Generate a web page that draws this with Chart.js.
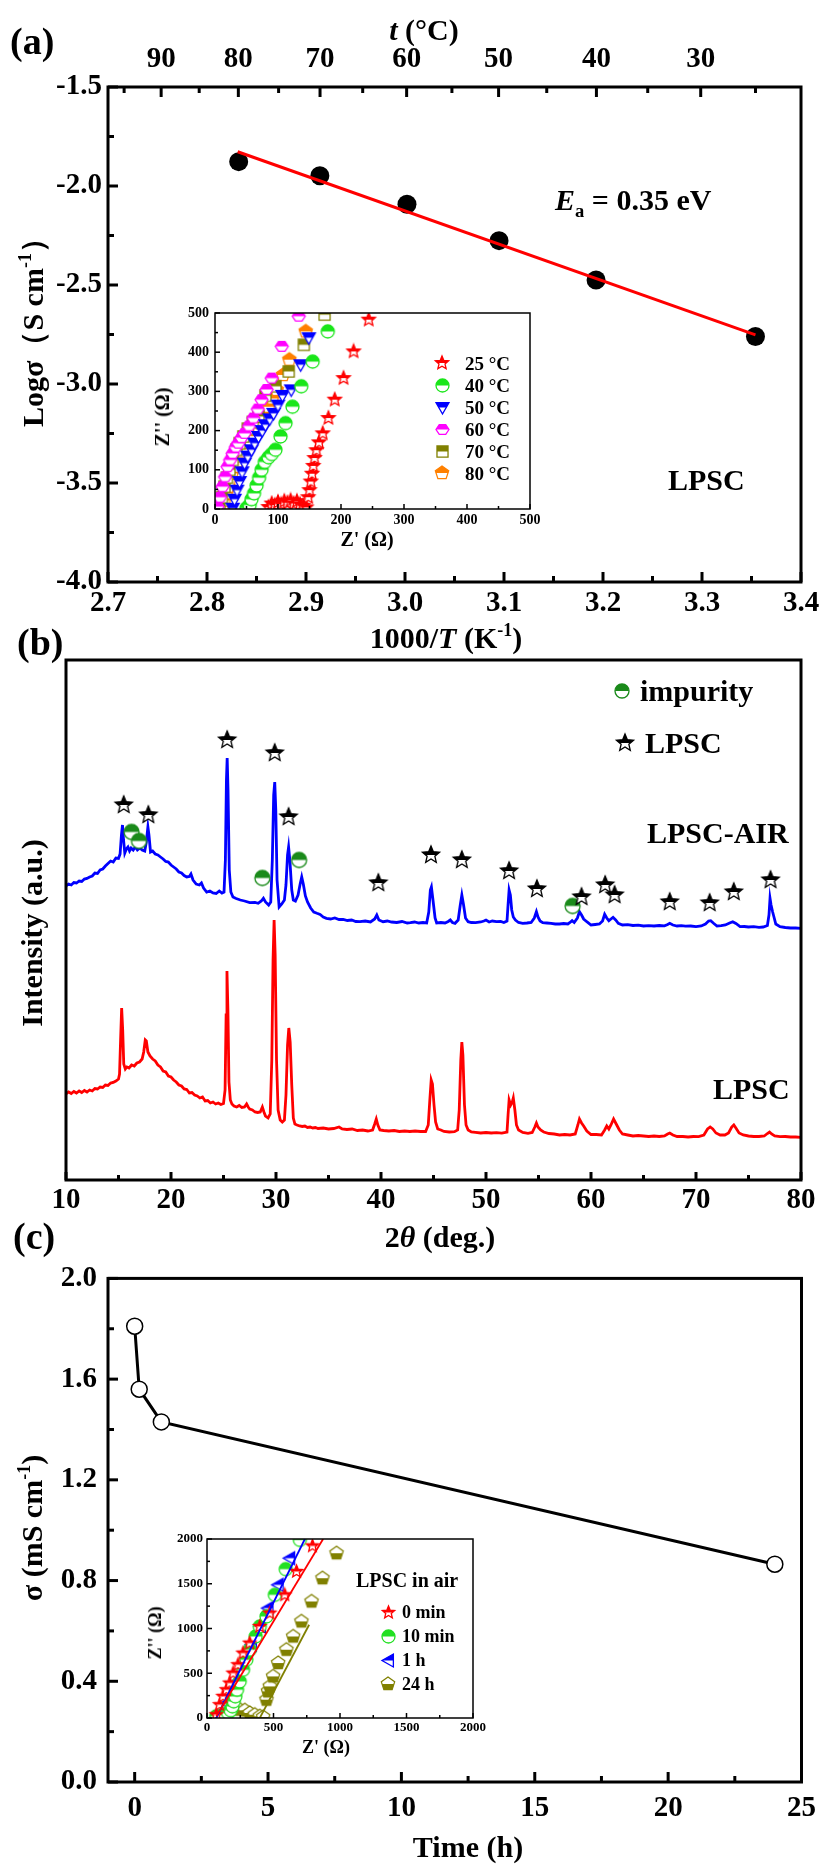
<!DOCTYPE html>
<html>
<head>
<meta charset="utf-8">
<script src="https://cdn.jsdelivr.net/npm/chart.js@4.4.0/dist/chart.umd.min.js"></script>
<style>
  body { margin: 0; background: #fff; }
  #fig { position: relative; width: 825px; height: 1865px; overflow: hidden; background: #fff;
         font-family: 'Liberation Serif', 'Times New Roman', serif; font-weight: bold; color: #000; }
  #fig canvas { position: absolute; }
  .t { position: absolute; white-space: nowrap; line-height: 1; z-index: 5; }
  .ctr { transform: translate(-50%, -50%); }
  .lm { transform: translate(0, -50%); }
  .rot { transform: translate(-50%, -50%) rotate(-90deg); }
  sup { font-size: 60%; vertical-align: 0.65em; line-height: 0; }
  sub { font-size: 62%; vertical-align: -0.4em; line-height: 0; }
  .leg { position: absolute; z-index: 5; }
</style>
</head>
<body>
<div id="fig">
  <canvas id="chartA" width="825" height="650" style="left:0;top:0"></canvas>
  <canvas id="chartB" width="825" height="660" style="left:0;top:600px"></canvas>
  <canvas id="chartC" width="825" height="615" style="left:0;top:1250px"></canvas>
  <canvas id="insetA" width="400" height="260" style="left:150px;top:295px"></canvas>
  <canvas id="insetC" width="340" height="235" style="left:150px;top:1525px"></canvas>

  <div class="t lm" style="left:10px;top:41px;font-size:38px">(a)</div>
  <div class="t ctr" style="left:424px;top:30px;font-size:30px"><i>t</i> (°C)</div>
  <div class="t ctr" style="left:446px;top:638px;font-size:30px">1000/<i>T</i> (K<sup>-1</sup>)</div>
  <div class="t rot" style="left:33px;top:325px;font-size:30px">Logσ（S cm<sup>-1</sup>）</div>
  <div class="t lm" style="left:555px;top:200px;font-size:30px"><i>E</i><sub>a</sub> = 0.35 eV</div>
  <div class="t lm" style="left:668px;top:480px;font-size:30px">LPSC</div>
  <div class="t rot" style="left:162px;top:417px;font-size:20px">Z'' (Ω)</div>
  <div class="t ctr" style="left:367px;top:539px;font-size:20px">Z' (Ω)</div>

  <div class="t lm" style="left:17px;top:642px;font-size:38px">(b)</div>
  <div class="t rot" style="left:32px;top:933px;font-size:30px">Intensity (a.u.)</div>
  <div class="t lm" style="left:640px;top:691px;font-size:30px">impurity</div>
  <div class="t lm" style="left:645px;top:743px;font-size:30px">LPSC</div>
  <div class="t lm" style="left:647px;top:833px;font-size:30px">LPSC-AIR</div>
  <div class="t lm" style="left:713px;top:1089px;font-size:30px">LPSC</div>
  <div class="t ctr" style="left:440px;top:1237px;font-size:30px">2<i>θ</i> (deg.)</div>

  <div class="t lm" style="left:13px;top:1236px;font-size:38px">(c)</div>
  <div class="t rot" style="left:32px;top:1528px;font-size:30px">σ (mS cm<sup>-1</sup>)</div>
  <div class="t ctr" style="left:468px;top:1847px;font-size:30px">Time (h)</div>
  <div class="t rot" style="left:155px;top:1633px;font-size:18px">Z'' (Ω)</div>
  <div class="t ctr" style="left:326px;top:1747px;font-size:18px">Z' (Ω)</div>
  <div class="t lm" style="left:356px;top:1580px;font-size:20px">LPSC in air</div>
</div>

<script>
// ---- (a) Arrhenius plot ----
const tempC = [80, 70, 60, 50, 40, 25];
const invT = [2.832, 2.914, 3.002, 3.095, 3.193, 3.354];
const logSigma = [-1.877, -1.948, -2.092, -2.276, -2.475, -2.76];
const fitInvT = [2.831, 3.354];
const fitLogSigma = [-1.827, -2.752];
const invTTicks = [2.7, 2.8, 2.9, 3.0, 3.1, 3.2, 3.3, 3.4];
const invTMinor = [2.75, 2.85, 2.95, 3.05, 3.15, 3.25, 3.35];
const logTicks = [-4.0, -3.5, -3.0, -2.5, -2.0, -1.5];
const logMinor = [-3.75, -3.25, -2.75, -2.25, -1.75];
const topTempTicks = [90, 80, 70, 60, 50, 40, 30];
const topTempMinor = [95, 85, 75, 65, 55, 45, 35, 25];

// inset (a): Nyquist plots, [Z', Z'']
const z25 = [[85,5],[90,14],[95,10],[100,18],[105,12],[110,20],[115,16],[120,22],[125,14],[130,20],[135,12],[140,8],[145,4],[148,30],[150,48],[152,70],[154,90],[156,110],[158,130],[161,150],[165,170],[171,193],[180,232],[190,279],[204,334],[220,402],[244,483]];
const z40 = [[50,2],[55,10],[58,25],[62,40],[66,60],[70,80],[74,100],[79,120],[85,132],[90,140],[96,151],[104,185],[112,219],[123,261],[137,313],[155,376],[179,453]];
const z50 = [[28,2],[31,25],[35,48],[39,70],[43,95],[47,117],[52,135],[58,151],[63,168],[69,185],[75,200],[80,215],[87,230],[93,244],[100,265],[107,290],[121,304],[136,368],[149,437]];
const z60 = [[4,6],[8,30],[12,57],[16,82],[20,108],[24,125],[28,142],[33,158],[37,168],[42,182],[47,193],[54,212],[61,232],[68,255],[74,279],[82,305],[90,334],[106,415],[133,492]];
const z70 = [[7,6],[11,30],[15,57],[19,80],[23,100],[28,125],[34,151],[39,168],[45,185],[52,205],[60,222],[69,236],[80,289],[96,313],[117,351],[141,419],[174,496]];
const z80 = [[12,6],[15,22],[18,40],[21,57],[23,74],[27,91],[31,108],[35,121],[39,134],[43,147],[47,159],[51,168],[55,176],[59,189],[63,202],[68,211],[72,219],[78,240],[85,261],[91,282],[98,304],[108,342],[118,381],[144,453]];
const insetATicks = [0, 100, 200, 300, 400, 500];
const insetAMinor = [50, 150, 250, 350, 450];

// ---- (b) XRD patterns, [2θ, intensity (a.u.)] ----
const xrdAir = [[10.0,294],[10.25,296],[10.5,295],[10.75,297.5],[11.0,297],[11.25,299],[11.5,298.5],[11.75,301],[12.0,301.5],[12.25,303],[12.5,304],[12.75,307],[13.0,306.5],[13.25,310],[13.5,311],[13.75,314],[14.0,316.5],[14.25,319],[14.5,318],[14.75,322],[15.0,321.5],[15.15,326],[15.28,345],[15.38,355],[15.48,340],[15.6,327],[15.75,331],[15.9,333],[16.05,329],[16.2,332],[16.4,330],[16.6,333],[16.8,330],[17.05,332],[17.25,330],[17.5,329],[17.65,338],[17.8,353],[17.9,345],[18.05,328],[18.25,329],[18.5,326],[18.75,325],[19.0,323],[19.25,321],[19.5,318.5],[19.75,318],[20.0,315],[20.25,313],[20.5,311],[20.75,308],[21.0,307],[21.25,304.5],[21.5,303],[21.75,303.5],[21.9,306],[22.1,300],[22.4,296],[22.7,295],[22.9,297],[23.1,292],[23.4,288],[23.7,289],[24.0,287],[24.3,286.5],[24.6,289],[24.85,287],[25.05,288],[25.18,320],[25.28,400],[25.35,422],[25.43,390],[25.55,310],[25.7,288],[25.9,283],[26.2,281.5],[26.6,280],[27.0,279],[27.5,277.3],[28.0,277.5],[28.3,276.7],[28.6,279],[28.8,281.7],[29.0,278],[29.3,275],[29.5,278],[29.65,320],[29.78,385],[29.88,398],[29.98,370],[30.1,300],[30.3,273],[30.55,276],[30.8,280],[30.95,295],[31.1,325],[31.2,333],[31.32,320],[31.5,290],[31.65,280],[31.85,279],[32.1,285],[32.3,296],[32.45,303],[32.6,296],[32.8,284],[33.0,278],[33.3,272],[33.6,268],[33.9,266.7],[34.2,265.5],[34.5,263],[34.8,261.7],[35.2,261],[35.6,262],[36.0,260.5],[36.4,260.7],[36.8,259.5],[37.2,260],[37.6,258.5],[38.0,258.3],[38.5,259],[39.0,258],[39.4,261],[39.6,265],[39.8,260],[40.2,258.3],[40.6,259],[41.0,258],[41.5,257.5],[42.0,258.5],[42.5,257],[42.8,257.3],[43.2,258],[43.6,257],[44.0,257.5],[44.35,257],[44.55,268],[44.7,290],[44.8,293],[44.95,280],[45.15,262],[45.3,257],[45.7,257.5],[46.1,257],[46.4,258.5],[46.6,260],[46.8,257.5],[47.05,256.7],[47.35,260],[47.55,275],[47.7,285],[47.85,276],[48.05,262],[48.3,258.3],[48.6,257.5],[49.0,257.3],[49.5,258],[49.8,259],[50.0,260],[50.3,258],[50.6,259],[51.0,258.3],[51.4,258.5],[51.7,257.5],[52.0,259],[52.1,275],[52.2,290],[52.32,285],[52.45,270],[52.6,263],[52.8,260],[53.1,257.5],[53.5,256.7],[53.9,257],[54.3,257.5],[54.6,262],[54.8,268.3],[54.95,263],[55.15,259],[55.4,257.3],[55.8,257],[56.2,256.7],[56.6,256],[57.0,256],[57.4,256.5],[57.8,256],[58.0,257.5],[58.2,259.3],[58.4,257.5],[58.7,262],[58.9,268.3],[59.1,265],[59.3,261],[59.6,258.3],[60.0,255],[60.4,255.5],[60.8,256],[61.1,259],[61.3,265.7],[61.5,262],[61.7,259.3],[61.9,261],[62.1,262.7],[62.35,260],[62.6,256.7],[63.0,255],[63.5,255.3],[64.0,254.5],[64.5,254.8],[65.0,254],[65.5,254.3],[66.0,254],[66.5,254.5],[67.0,254.2],[67.3,255.5],[67.5,256.7],[67.8,255],[68.2,254],[68.6,254.3],[69.0,253.8],[69.5,254],[70.0,253.3],[70.5,254],[70.9,256],[71.2,259],[71.4,259.3],[71.7,256.5],[72.0,254],[72.4,254.3],[72.8,255],[73.2,257],[73.5,258.3],[73.8,256.5],[74.2,253.3],[74.6,253.5],[75.0,253],[75.5,253.3],[76.0,252.7],[76.4,253],[76.8,254.5],[76.95,265],[77.05,281.7],[77.15,275],[77.3,268],[77.45,262],[77.6,256],[78.0,253.3],[78.5,252.5],[79.0,252],[79.5,252],[80.0,251.7]];
const xrdLpsc = [[10.0,86],[10.25,88],[10.5,86.5],[10.75,88.5],[11.0,87],[11.25,89],[11.5,87.5],[11.75,89.5],[12.0,88],[12.25,90],[12.5,89],[12.75,91.5],[13.0,91],[13.25,93],[13.5,92.5],[13.75,95],[14.0,94.5],[14.25,97],[14.5,97.5],[14.75,99],[15.0,101],[15.1,106],[15.2,140],[15.3,172],[15.4,150],[15.5,116],[15.65,111],[15.8,113],[16.0,112],[16.25,115],[16.5,114],[16.75,117],[17.0,118],[17.25,121],[17.4,128],[17.55,140],[17.65,139],[17.8,128],[18.0,124],[18.25,121],[18.5,119],[18.75,115],[19.0,113],[19.25,109],[19.5,108],[19.75,104],[20.0,103],[20.25,100],[20.5,98],[20.75,95],[21.0,94],[21.25,91],[21.5,90.5],[21.75,87],[22.0,87.5],[22.25,85],[22.5,84],[22.75,82],[23.0,83],[23.25,79],[23.5,79.5],[23.75,77],[24.0,78],[24.25,76],[24.5,77],[24.75,75.5],[25.0,76.5],[25.15,90],[25.25,165],[25.33,209],[25.42,170],[25.52,98],[25.65,80],[25.8,76],[26.0,74],[26.25,73],[26.5,74.5],[26.75,72.5],[27.0,73],[27.2,76],[27.35,73],[27.5,71],[27.75,70],[28.0,68],[28.25,67.5],[28.5,68],[28.7,73],[28.85,68],[29.0,64],[29.25,62],[29.45,66],[29.6,120],[29.72,220],[29.82,260],[29.92,225],[30.05,120],[30.2,70],[30.4,60],[30.6,58],[30.8,60],[30.95,85],[31.1,135],[31.22,152],[31.35,138],[31.5,95],[31.65,62],[31.8,56],[32.0,55],[32.25,54],[32.5,53.5],[32.75,54],[33.0,52.5],[33.25,53],[33.5,52],[33.75,52.5],[34.0,51.5],[34.5,52],[35.0,51],[35.5,51.5],[36.0,53],[36.3,51],[36.75,50.5],[37.25,51],[37.75,49.5],[38.25,50],[38.75,49],[39.2,50],[39.4,56],[39.55,61],[39.7,55],[39.9,50],[40.25,49.5],[40.75,49],[41.25,49.5],[41.75,48.5],[42.25,49],[42.75,48.5],[43.25,49],[43.75,48.5],[44.25,48.5],[44.5,55],[44.65,80],[44.78,100],[44.9,96],[45.05,75],[45.2,58],[45.4,51],[45.7,50],[46.0,48.5],[46.5,48],[47.0,48.3],[47.3,50],[47.45,70],[47.6,120],[47.7,138],[47.8,125],[47.95,75],[48.1,55],[48.3,50],[48.6,48],[49.0,47.7],[49.5,47],[50.0,47.5],[50.5,47],[51.0,47.3],[51.5,46.8],[52.0,48],[52.1,65],[52.2,80],[52.35,75],[52.5,78],[52.6,82],[52.75,70],[52.9,55],[53.1,50],[53.5,47.5],[54.0,46.7],[54.4,47.5],[54.65,53],[54.8,57],[54.95,53],[55.2,50],[55.5,48],[56.0,46.5],[56.5,46],[57.0,45],[57.5,45.5],[58.0,45],[58.5,46],[58.75,55],[58.9,61],[59.1,57],[59.3,54],[59.6,49],[60.0,45.5],[60.5,45.5],[61.0,45],[61.3,50],[61.5,54],[61.7,51],[61.9,55],[62.15,61],[62.4,56],[62.7,50],[63.0,46],[63.5,45],[64.0,44],[64.5,44.5],[65.0,44],[65.5,43.5],[66.0,44],[66.5,43.5],[67.0,44],[67.3,46],[67.5,47],[67.8,45],[68.2,43.5],[68.75,43.5],[69.25,43],[69.75,43.5],[70.25,43.3],[70.75,45],[71.1,51],[71.35,53],[71.6,51],[71.9,47],[72.3,45],[72.75,45],[73.1,47],[73.4,53],[73.6,55],[73.8,52],[74.1,47],[74.5,45],[75.0,44],[75.5,43.5],[76.0,43.5],[76.5,44],[76.8,46.5],[77.0,48],[77.2,46],[77.5,44],[78.0,43.3],[78.5,43.5],[79.0,43],[79.5,43],[80.0,42.7]];
const lpscPeakMarks = [[15.5,375],[17.84,365],[25.35,440],[29.88,427],[31.2,363],[39.75,297],[44.76,325],[47.7,320],[52.2,309],[54.85,291],[59.1,283],[61.35,295],[62.25,285],[67.5,278],[71.3,277],[73.6,288],[77.1,300]];
const impurityMarks = [[16.25,348],[16.95,339],[28.7,302],[32.2,320],[58.25,274]];
const twoThetaTicks = [10, 20, 30, 40, 50, 60, 70, 80];
const twoThetaMinor = [15, 25, 35, 45, 55, 65, 75];

// ---- (c) conductivity vs exposure time ----
const timeH = [0, 0.17, 1, 24];
const sigmaMS = [1.81, 1.56, 1.43, 0.865];
const timeTicks = [0, 5, 10, 15, 20, 25];
const timeMinor = [2.5, 7.5, 12.5, 17.5, 22.5];
const sigmaTicks = [0.0, 0.4, 0.8, 1.2, 1.6, 2.0];
const sigmaMinor = [0.2, 0.6, 1.0, 1.4, 1.8];

// inset (c): Nyquist plots in air, [Z', Z'']
const air0min = [[70,37],[95,149],[120,242],[146,316],[171,391],[196,502],[233,595],[271,725],[321,837],[397,1023],[472,1172],[585,1376],[673,1637],[793,1923]];
const air10min = [[70,19],[108,26],[133,37],[158,56],[178,86],[191,130],[201,186],[213,242],[226,316],[246,409],[271,539],[296,651],[321,763],[366,911],[397,1023],[447,1135],[510,1376],[592,1663],[698,1990]];
const air1h = [[83,11],[146,167],[208,391],[271,595],[334,818],[402,1023],[459,1228],[535,1488],[622,1786]];
const air24h = [[246,93],[284,86],[321,56],[359,37],[397,19],[422,11],[447,205],[459,298],[472,353],[497,465],[535,614],[597,763],[648,911],[710,1079],[786,1302],[868,1562],[974,1841]];
const fit0min = [[70,19],[873,2000]];
const fit1h = [[70,0],[736,2000]];
const fit24h = [[397,0],[768,1042]];
const insetCTicks = [0, 500, 1000, 1500, 2000];
const insetCMinor = [250, 750, 1250, 1750];

const SERIF = "'Liberation Serif', 'Times New Roman', serif";
const pts = arr => arr.map(p => ({ x: p[0], y: p[1] }));
const zip = (xs, ys) => xs.map((x, i) => ({ x: x, y: ys[i] }));

// marker glyphs: outline in colour, one half filled
function shapePath(ctx, shape, cx, cy, r) {
  ctx.beginPath();
  if (shape === 'circle') { ctx.arc(cx, cy, r, 0, Math.PI * 2); return; }
  let p = [];
  if (shape === 'star') {
    for (let i = 0; i < 10; i++) {
      const a = -Math.PI / 2 + i * Math.PI / 5, rr = i % 2 ? r * 0.45 : r;
      p.push([cx + rr * Math.cos(a), cy + rr * Math.sin(a)]);
    }
  } else if (shape === 'pentagon') {
    for (let i = 0; i < 5; i++) {
      const a = -Math.PI / 2 + i * 2 * Math.PI / 5;
      p.push([cx + r * Math.cos(a), cy + r * Math.sin(a)]);
    }
  } else if (shape === 'hexagon') {
    for (let i = 0; i < 6; i++) {
      const a = i * Math.PI / 3;
      p.push([cx + r * Math.cos(a), cy + r * 0.88 * Math.sin(a)]);
    }
  } else if (shape === 'square') {
    const h = r * 0.85;
    p = [[cx - h, cy - h], [cx + h, cy - h], [cx + h, cy + h], [cx - h, cy + h]];
  } else if (shape === 'triDown') {
    p = [[cx - r, cy - r * 0.75], [cx + r, cy - r * 0.75], [cx, cy + r]];
  } else if (shape === 'triLeft') {
    p = [[cx + r * 0.75, cy - r], [cx + r * 0.75, cy + r], [cx - r, cy]];
  }
  p.forEach((q, i) => i ? ctx.lineTo(q[0], q[1]) : ctx.moveTo(q[0], q[1]));
  ctx.closePath();
}

function makeMarker(shape, color, size, half) {
  const c = document.createElement('canvas');
  c.width = size + 4; c.height = size + 4;
  const ctx = c.getContext('2d');
  const cx = c.width / 2, cy = c.height / 2, r = size / 2;
  shapePath(ctx, shape, cx, cy, r);
  ctx.fillStyle = '#fff'; ctx.fill();
  ctx.save();
  shapePath(ctx, shape, cx, cy, r); ctx.clip();
  ctx.fillStyle = color;
  if (half === 'bottom') ctx.fillRect(0, cy, c.width, c.height);
  else ctx.fillRect(0, 0, c.width, cy);
  ctx.restore();
  shapePath(ctx, shape, cx, cy, r);
  ctx.strokeStyle = color; ctx.lineWidth = 1.3; ctx.stroke();
  return c;
}

function putIcon(canvas, x, y) {
  canvas.className = 'leg';
  canvas.style.left = (x - canvas.width / 2) + 'px';
  canvas.style.top = (y - canvas.height / 2) + 'px';
  document.getElementById('fig').appendChild(canvas);
}

function putText(html, x, y, size) {
  const d = document.createElement('div');
  d.className = 't lm';
  d.style.left = x + 'px'; d.style.top = y + 'px'; d.style.fontSize = size + 'px';
  d.innerHTML = html;
  document.getElementById('fig').appendChild(d);
}

// frame box + inward tick marks
const frame = {
  id: 'frame',
  beforeDatasetsDraw(chart, args, o) {
    if (!o.fill) return;
    const a = chart.chartArea, ctx = chart.ctx;
    ctx.save(); ctx.fillStyle = o.fill;
    ctx.fillRect(a.left, a.top, a.right - a.left, a.bottom - a.top);
    ctx.restore();
  },
  afterDraw(chart, args, o) {
    const ctx = chart.ctx, a = chart.chartArea;
    ctx.save();
    ctx.strokeStyle = '#000';
    ctx.lineWidth = o.width;
    (o.marks || []).forEach(m => {
      const s = chart.scales[m.scale];
      m.values.forEach(v => {
        const p = s.getPixelForValue(v);
        ctx.beginPath();
        if (m.side === 'bottom') { ctx.moveTo(p, a.bottom); ctx.lineTo(p, a.bottom - m.len); }
        if (m.side === 'top') { ctx.moveTo(p, a.top); ctx.lineTo(p, a.top + m.len); }
        if (m.side === 'left') { ctx.moveTo(a.left, p); ctx.lineTo(a.left + m.len, p); }
        ctx.stroke();
      });
    });
    ctx.strokeRect(a.left, a.top, a.right - a.left, a.bottom - a.top);
    ctx.restore();
  }
};

function linAxis(o) {
  return {
    type: 'linear', position: o.position, min: o.min, max: o.max,
    grid: { display: false, drawTicks: false },
    border: { display: false },
    afterBuildTicks: s => { s.ticks = o.ticks.map(v => ({ value: v })); },
    afterFit: s => {
      if (o.position === 'left') s.width = o.fit; else s.height = o.fit;
    },
    ticks: {
      display: o.labels !== false,
      autoSkip: false, maxRotation: 0, minRotation: 0,
      padding: o.padding || 0, color: '#000',
      font: { family: SERIF, weight: 'bold', size: o.size || 12 },
      callback: o.fmt || (v => v)
    }
  };
}

function baseOptions(padding, frameOpts, scales) {
  return {
    responsive: false, animation: false, events: [],
    layout: { padding: padding },
    plugins: { legend: { display: false }, tooltip: { enabled: false }, frame: frameOpts },
    scales: scales
  };
}

// ---- chart (a) ----
new Chart(document.getElementById('chartA'), {
  type: 'scatter',
  data: {
    datasets: [
      { data: zip(fitInvT, fitLogSigma), showLine: true, borderColor: '#ff0000', borderWidth: 3, pointRadius: 0 },
      { data: zip(invT, logSigma), pointRadius: 9.5, pointBackgroundColor: '#000', pointBorderColor: '#000', pointBorderWidth: 0 }
    ]
  },
  options: baseOptions({ left: 0, right: 24, top: 0, bottom: 0 }, {
    width: 3,
    marks: [
      { scale: 'x', side: 'bottom', values: invTTicks, len: 10 },
      { scale: 'x', side: 'bottom', values: invTMinor, len: 6 },
      { scale: 'x2', side: 'top', values: topTempTicks.map(t => 1000 / (t + 273.15)), len: 10 },
      { scale: 'x2', side: 'top', values: topTempMinor.map(t => 1000 / (t + 273.15)), len: 6 },
      { scale: 'y', side: 'left', values: logTicks, len: 10 },
      { scale: 'y', side: 'left', values: logMinor, len: 6 }
    ]
  }, {
    x: linAxis({ position: 'bottom', min: 2.7, max: 3.4, ticks: invTTicks, fit: 68, size: 29, padding: 4, fmt: v => v.toFixed(1) }),
    x2: linAxis({ position: 'top', min: 2.7, max: 3.4, ticks: topTempTicks.map(t => 1000 / (t + 273.15)), fit: 87, size: 29, padding: 10, fmt: (v, i) => topTempTicks[i] }),
    y: linAxis({ position: 'left', min: -4, max: -1.5, ticks: logTicks, fit: 108, size: 29, padding: 6, fmt: v => v.toFixed(1) })
  }),
  plugins: [frame]
});

// ---- inset (a) ----
const insetASeries = [
  { label: '25 °C', data: z25, shape: 'star', color: '#ff0000', size: 14 },
  { label: '40 °C', data: z40, shape: 'circle', color: '#19e619', size: 13 },
  { label: '50 °C', data: z50, shape: 'triDown', color: '#0000ff', size: 13 },
  { label: '60 °C', data: z60, shape: 'hexagon', color: '#ff00ff', size: 13 },
  { label: '70 °C', data: z70, shape: 'square', color: '#808000', size: 13 },
  { label: '80 °C', data: z80, shape: 'pentagon', color: '#ff8000', size: 14 }
];
new Chart(document.getElementById('insetA'), {
  type: 'scatter',
  data: {
    datasets: insetASeries.map(s => ({
      data: pts(s.data), pointStyle: makeMarker(s.shape, s.color, s.size), pointRadius: 6
    }))
  },
  options: baseOptions({ left: 0, right: 20, top: 18, bottom: 0 }, {
    width: 1.5, fill: '#fff',
    marks: [
      { scale: 'x', side: 'bottom', values: insetATicks, len: 5 },
      { scale: 'x', side: 'bottom', values: insetAMinor, len: 3 },
      { scale: 'y', side: 'left', values: insetATicks, len: 5 },
      { scale: 'y', side: 'left', values: insetAMinor, len: 3 }
    ]
  }, {
    x: linAxis({ position: 'bottom', min: 0, max: 500, ticks: insetATicks, fit: 46, size: 14, padding: 3 }),
    y: linAxis({ position: 'left', min: 0, max: 500, ticks: insetATicks, fit: 65, size: 14, padding: 6 })
  }),
  plugins: [frame]
});
insetASeries.forEach((s, i) => {
  putIcon(makeMarker(s.shape, s.color, s.size), 442, 363 + i * 22);
  putText(s.label, 465, 363 + i * 22, 19);
});

// ---- chart (b) ----
const starIcon = makeMarker('star', '#000', 18);
const impIcon = makeMarker('circle', '#1a8a1a', 15);
new Chart(document.getElementById('chartB'), {
  type: 'scatter',
  data: {
    datasets: [
      { data: pts(lpscPeakMarks), pointStyle: starIcon, pointRadius: 8 },
      { data: pts(impurityMarks), pointStyle: impIcon, pointRadius: 8 },
      { data: pts(xrdAir), showLine: true, borderColor: '#0000ff', borderWidth: 2.8, pointRadius: 0 },
      { data: pts(xrdLpsc), showLine: true, borderColor: '#ff0000', borderWidth: 2.8, pointRadius: 0 }
    ]
  },
  options: baseOptions({ left: 0, right: 24, top: 60, bottom: 0 }, {
    width: 3,
    marks: [
      { scale: 'x', side: 'bottom', values: twoThetaTicks, len: 8 },
      { scale: 'x', side: 'bottom', values: twoThetaMinor, len: 5 }
    ]
  }, {
    x: linAxis({ position: 'bottom', min: 10, max: 80, ticks: twoThetaTicks, fit: 80, size: 29, padding: 3 }),
    y: linAxis({ position: 'left', min: 0, max: 520, ticks: [], fit: 66, labels: false })
  }),
  plugins: [frame]
});
putIcon(makeMarker('circle', '#1a8a1a', 14), 622, 691);
putIcon(makeMarker('star', '#000', 18), 625, 743);

// ---- chart (c) ----
new Chart(document.getElementById('chartC'), {
  type: 'scatter',
  data: {
    datasets: [{
      data: zip(timeH, sigmaMS), showLine: true, borderColor: '#000', borderWidth: 3,
      pointRadius: 8, pointBackgroundColor: '#fff', pointBorderColor: '#000', pointBorderWidth: 1.5
    }]
  },
  options: baseOptions({ left: 0, right: 20, top: 25, bottom: 0 }, {
    width: 3,
    marks: [
      { scale: 'x', side: 'bottom', values: timeTicks, len: 10 },
      { scale: 'x', side: 'bottom', values: timeMinor, len: 6 },
      { scale: 'y', side: 'left', values: sigmaTicks, len: 10 },
      { scale: 'y', side: 'left', values: sigmaMinor, len: 6 }
    ]
  }, {
    x: linAxis({ position: 'bottom', min: -1, max: 25, ticks: timeTicks, fit: 83, size: 29, padding: 9 }),
    y: linAxis({ position: 'left', min: 0, max: 2, ticks: sigmaTicks, fit: 108, size: 29, padding: 11, fmt: v => v.toFixed(1) })
  }),
  plugins: [frame]
});

// ---- inset (c) ----
const insetCSeries = [
  { label: '0 min', data: air0min, fit: fit0min, shape: 'star', color: '#ff0000', size: 13, half: 'top' },
  { label: '10 min', data: air10min, fit: null, shape: 'circle', color: '#22e022', size: 13, half: 'top' },
  { label: '1 h', data: air1h, fit: fit1h, shape: 'triLeft', color: '#0000ff', size: 13, half: 'top' },
  { label: '24 h', data: air24h, fit: fit24h, shape: 'pentagon', color: '#808000', size: 14, half: 'bottom' }
];
const insetCSets = [];
insetCSeries.forEach(s => {
  if (s.fit) insetCSets.push({ data: pts(s.fit), showLine: true, borderColor: s.color, borderWidth: 1.8, pointRadius: 0 });
});
insetCSeries.forEach(s => {
  insetCSets.push({ data: pts(s.data), pointStyle: makeMarker(s.shape, s.color, s.size, s.half), pointRadius: 6 });
});
new Chart(document.getElementById('insetC'), {
  type: 'scatter',
  data: { datasets: insetCSets },
  options: baseOptions({ left: 0, right: 17, top: 14, bottom: 0 }, {
    width: 1.5, fill: '#fff',
    marks: [
      { scale: 'x', side: 'bottom', values: insetCTicks, len: 5 },
      { scale: 'x', side: 'bottom', values: insetCMinor, len: 3 },
      { scale: 'y', side: 'left', values: insetCTicks, len: 5 },
      { scale: 'y', side: 'left', values: insetCMinor, len: 3 }
    ]
  }, {
    x: linAxis({ position: 'bottom', min: 0, max: 2000, ticks: insetCTicks, fit: 42, size: 13, padding: 2 }),
    y: linAxis({ position: 'left', min: 0, max: 2000, ticks: insetCTicks, fit: 57, size: 13, padding: 4 })
  }),
  plugins: [frame]
});
insetCSeries.forEach((s, i) => {
  putIcon(makeMarker(s.shape, s.color, s.size, s.half), 388, 1612 + i * 24);
  putText(s.label, 402, 1612 + i * 24, 18);
});
</script>
</body>
</html>
